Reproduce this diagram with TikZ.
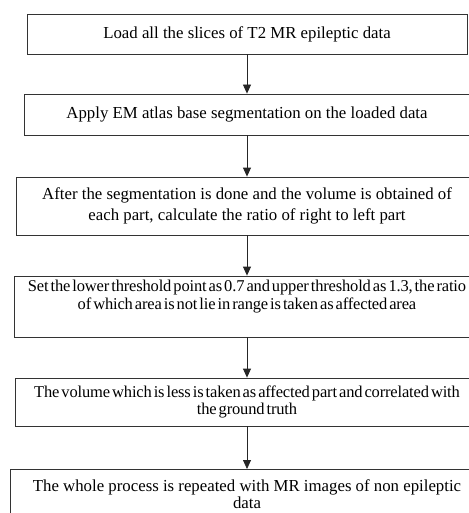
\documentclass[tikz,border=0pt]{standalone}
\usepackage{fontspec}
\setmainfont{Liberation Serif}
\newfontfamily\tightfont{Liberation Serif}[WordSpace=0.5,LetterSpace=-1.0]
\usetikzlibrary{positioning,arrows.meta}
\tikzset{
  stepbox/.style={draw=black!80, line width=0.8pt, align=center, inner sep=0pt,
    font=\fontsize{16.8}{21}\selectfont},
  flow/.style={draw=black!85, line width=0.8pt, -{Triangle[length=9pt,width=8pt]}}
}
\begin{document}
\begin{tikzpicture}[x=1pt, y=-1pt]
  \useasboundingbox (0,0) rectangle (468,513);
  % process boxes, top to bottom
  \node[stepbox, minimum width=440pt, minimum height=40pt] (load) at (247,34)
    {Load all the slices of T2 MR epileptic data};
  \node[stepbox, minimum width=446pt, minimum height=41pt] (seg) at (247,114.5)
    {Apply EM atlas base segmentation on the loaded data};
  \node[stepbox, minimum width=462pt, minimum height=58pt] (ratio) at (247,206)
    {After the segmentation is done and the volume is obtained of\\
     each part, calculate the ratio of right to left part};
  \node[stepbox, minimum width=466pt, minimum height=61pt, font=\fontsize{16.5}{18}\selectfont\tightfont] (thresh) at (247,306.5)
    {Set the lower threshold point as 0.7 and upper threshold as 1.3, the ratio\\
     of which area is not lie in range is taken as affected area\\[6pt]};
  \node[stepbox, minimum width=464pt, minimum height=48pt, font=\fontsize{16.5}{17}\selectfont\tightfont] (volume) at (247,402)
    {The volume which is less is taken as affected part and correlated with\\
     the ground truth};
  \node[stepbox, minimum width=474pt, minimum height=46pt, anchor=north,
    font=\fontsize{16.8}{17}\selectfont] (repeat) at (247,469)
    {\rule{0pt}{15pt}The whole process is repeated with MR images of non epileptic\\
     data};
  % arrows
  \draw[flow] (load) -- (seg);
  \draw[flow] (seg) -- (ratio);
  \draw[flow] (ratio) -- (thresh);
  \draw[flow] (thresh) -- (volume);
  \draw[flow] (volume) -- (repeat);
\end{tikzpicture}
\end{document}
